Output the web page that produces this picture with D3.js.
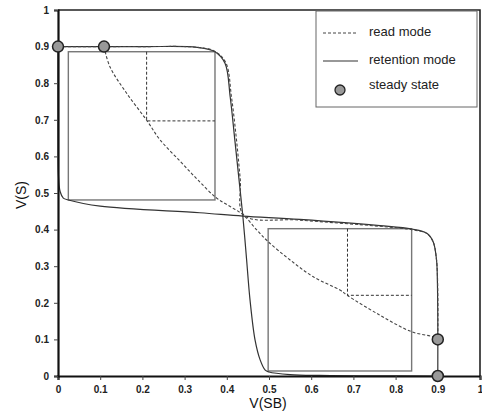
<!DOCTYPE html>
<html><head><meta charset="utf-8">
<script src="https://cdn.jsdelivr.net/npm/d3@7"></script>
<style>body{margin:0;background:#fff}svg{display:block}</style>
</head><body>
<script>
// ---- data ----
const xTicks = [0,0.1,0.2,0.3,0.4,0.5,0.6,0.7,0.8,0.9,1];
const yTicks = [0,0.1,0.2,0.3,0.4,0.5,0.6,0.7,0.8,0.9,1];
const tickLabels = ["0","0.1","0.2","0.3","0.4","0.5","0.6","0.7","0.8","0.9","1"];
// retention mode, curve 1: V(S) vs V(SB)
const retention1 = [[0,0.9],[0.2,0.9],[0.33,0.898],[0.372,0.886],[0.396,0.854],[0.408,0.763],[0.419,0.645],[0.429,0.536],[0.438,0.437],[0.443,0.372],[0.447,0.317],[0.455,0.208],[0.467,0.098],[0.479,0.044],[0.491,0.016],[0.5,0.011],[0.55,0.004],[0.62,0.0015],[0.75,0.0005],[0.9,0]];
// retention mode, curve 2 (mirrored)
const retention2 = [[0.9,0],[0.9,0.15],[0.899,0.26],[0.897,0.317],[0.889,0.367],[0.874,0.39],[0.838,0.4016],[0.763,0.411],[0.573,0.428],[0.438,0.437],[0.336,0.446],[0.1,0.464],[0.0245,0.481],[0.0126,0.486],[0.005,0.504],[0.001,0.549],[0,0.65],[0,0.9]];
// read mode, curve 1
const read1 = [[0.109,0.9],[0.123,0.845],[0.163,0.772],[0.21,0.699],[0.242,0.645],[0.29,0.586],[0.332,0.535],[0.376,0.486],[0.408,0.463],[0.439,0.44],[0.471,0.399],[0.498,0.367],[0.55,0.317],[0.605,0.271],[0.668,0.235],[0.686,0.22],[0.76,0.168],[0.838,0.121],[0.889,0.107],[0.9,0.1]];
// read mode, curve 2
const read2 = [[0,0.9],[0.109,0.9],[0.2,0.9],[0.33,0.898],[0.372,0.887],[0.398,0.855],[0.411,0.763],[0.423,0.645],[0.432,0.536],[0.44,0.44],[0.573,0.426],[0.763,0.409],[0.838,0.4],[0.874,0.389],[0.889,0.366],[0.897,0.317],[0.9,0.22],[0.9,0.1]];
// steady states
const steadyX = [0,0.109,0.9,0.9];
const steadyY = [0.9,0.9,0.1,0];
// inset squares [x0,y0,x1,y1] and read-mode corner [xc,yc]
const squares = [[0.0245,0.481,0.372,0.886],[0.498,0.0137,0.838,0.4025]];
const readCorners = [[0.21,0.697],[0.686,0.2205]];
const legendLabels = ["read mode","retention mode","steady state"];

// ---- drawing ----
const W=482,H=413;
const svg=d3.select("body").append("svg").attr("width",W).attr("height",H);
const x=d3.scaleLinear().domain([0,1]).range([58,480]);
const y=d3.scaleLinear().domain([0,1]).range([376,10]);
const line=d3.line().x(d=>x(d[0])).y(d=>y(d[1])).curve(d3.curveCatmullRom.alpha(0.5));

// frame top/right
svg.append("path").attr("d",`M${x(0)},${y(1)}H${x(1)}V${y(0)}`).attr("fill","none").attr("stroke","#222").attr("stroke-width",1.6);

// inset squares
squares.forEach((s,i)=>{
  svg.append("rect").attr("x",x(s[0])).attr("y",y(s[3])).attr("width",x(s[2])-x(s[0])).attr("height",y(s[1])-y(s[3]))
    .attr("fill","none").attr("stroke","#777").attr("stroke-width",1.4);
  const c=readCorners[i];
  svg.append("path").attr("d",`M${x(c[0])},${y(s[3])}V${y(c[1])}H${x(s[2])}`)
    .attr("fill","none").attr("stroke","#333").attr("stroke-width",1).attr("stroke-dasharray","3,2");
});

// curves
[retention1,retention2].forEach(d=>svg.append("path").attr("d",line(d)).attr("fill","none").attr("stroke","#333").attr("stroke-width",1.2));
[read1,read2].forEach(d=>svg.append("path").attr("d",line(d)).attr("fill","none").attr("stroke","#444").attr("stroke-width",1.1).attr("stroke-dasharray","3,2"));

// axes
const xa=svg.append("g").attr("transform",`translate(0,${y(0)})`)
  .call(d3.axisBottom(x).tickValues(xTicks).tickFormat((d,i)=>tickLabels[i]).tickSize(4).tickPadding(6));
const ya=svg.append("g").attr("transform",`translate(${x(0)},0)`)
  .call(d3.axisLeft(y).tickValues(yTicks).tickFormat((d,i)=>tickLabels[i]).tickSize(4).tickPadding(5));
[xa,ya].forEach(g=>{
  g.select(".domain").attr("stroke","#111").attr("stroke-width",2.2);
  g.selectAll(".tick line").attr("stroke","#444");
  g.selectAll("text").attr("font-family","Liberation Sans, Arial, sans-serif").attr("font-size",10).attr("font-weight","bold").attr("fill","#222");
});

// steady-state circles
steadyX.forEach((v,i)=>{
  svg.append("circle").attr("cx",x(v)).attr("cy",y(steadyY[i])).attr("r",5.5)
    .attr("fill","#999").attr("stroke","#222").attr("stroke-width",1.5);
});

// axis titles
svg.append("text").attr("x",268).attr("y",408).attr("text-anchor","middle")
  .attr("font-family","Liberation Sans, Arial, sans-serif").attr("font-size",14).attr("fill","#111").text("V(SB)");
svg.append("text").attr("transform","translate(26,195) rotate(-90)").attr("text-anchor","middle")
  .attr("font-family","Liberation Sans, Arial, sans-serif").attr("font-size",14).attr("fill","#111").text("V(S)");

// legend
const lg=svg.append("g");
lg.append("rect").attr("x",316).attr("y",11).attr("width",161).attr("height",96).attr("fill","#fff").attr("stroke","#666").attr("stroke-width",1);
const rows=[33,61,90];
lg.append("line").attr("x1",323).attr("x2",358).attr("y1",rows[0]).attr("y2",rows[0]).attr("stroke","#444").attr("stroke-dasharray","3,2");
lg.append("line").attr("x1",323).attr("x2",358).attr("y1",rows[1]).attr("y2",rows[1]).attr("stroke","#333").attr("stroke-width",1.2);
lg.append("circle").attr("cx",340).attr("cy",rows[2]).attr("r",5).attr("fill","#999").attr("stroke","#222").attr("stroke-width",1.3);
legendLabels.forEach((t,i)=>lg.append("text").attr("x",369).attr("y",[35.5,63.5,89][i])
  .attr("font-family","Liberation Sans, Arial, sans-serif").attr("font-size",13).attr("fill","#222").text(t));
</script>
</body></html>
